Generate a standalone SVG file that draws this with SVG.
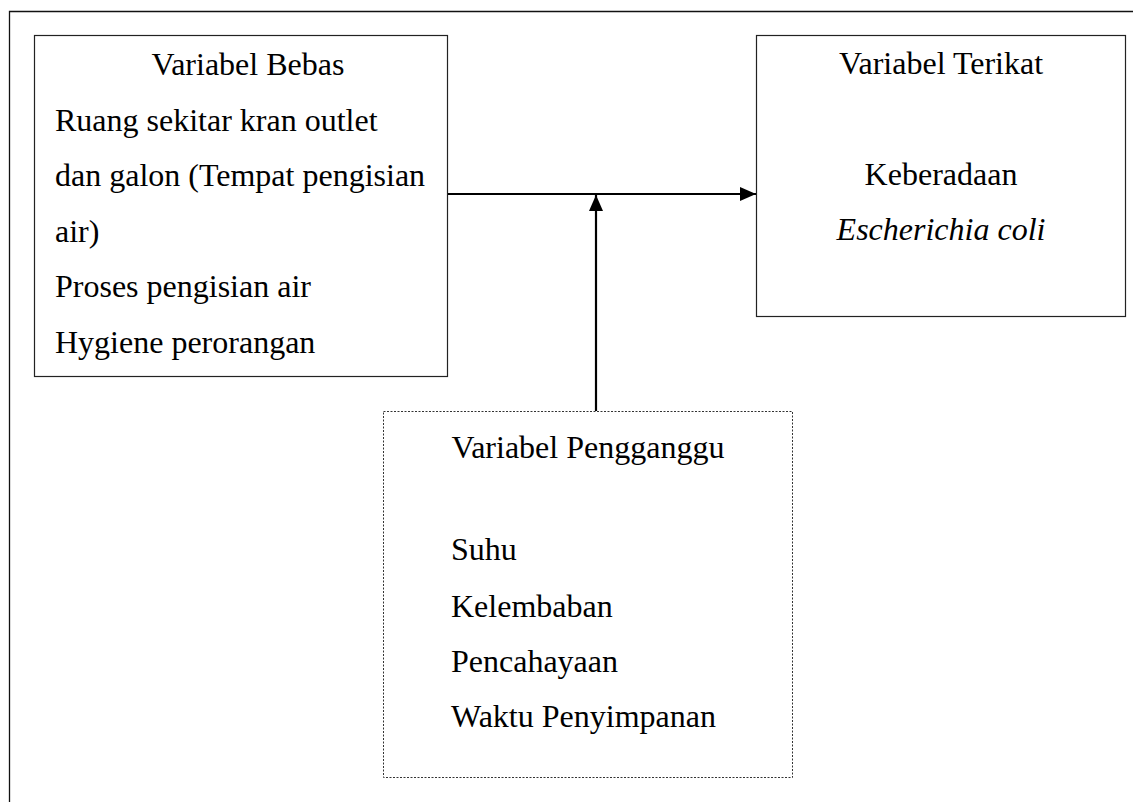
<svg xmlns="http://www.w3.org/2000/svg" width="1133" height="802" viewBox="0 0 1133 802">
<style>
  .t { font-family: "Liberation Serif", "Times New Roman", serif; font-size: 32px; fill: #000; }
  .c { text-anchor: middle; }
  .box { fill: #fff; stroke: #222; stroke-width: 1.2; }
  .dot { fill: #fff; stroke: #333; stroke-width: 1; stroke-dasharray: 2 1.5; }
  .conn { stroke: #000; stroke-width: 2.2; fill: none; }
</style>
<defs>
  <marker id="arr" viewBox="0 0 16 14" refX="16" refY="7" markerWidth="16" markerHeight="14" markerUnits="userSpaceOnUse" orient="auto">
    <path d="M0,0 L16,7 L0,14 Z" fill="#000"/>
  </marker>
</defs>
<rect width="1133" height="802" fill="#fff"/>
<g id="frame">
  <path d="M9.5,802 L9.5,11.5 L1133,11.5" fill="none" stroke="#111" stroke-width="1.3"/>
</g>
<g id="bebas">
  <rect class="box" x="34.5" y="35.5" width="413" height="341"/>
  <text class="t c" x="248" y="75">Variabel Bebas</text>
  <text class="t" x="55" y="130.5">Ruang sekitar kran outlet</text>
  <text class="t" x="55" y="186">dan galon (Tempat pengisian</text>
  <text class="t" x="55" y="241.5">air)</text>
  <text class="t" x="55" y="297">Proses pengisian air</text>
  <text class="t" x="55" y="352.5">Hygiene perorangan</text>
</g>
<g id="terikat">
  <rect class="box" x="756.5" y="35.5" width="369" height="281"/>
  <text class="t c" x="941" y="74">Variabel Terikat</text>
  <text class="t c" x="941" y="185">Keberadaan</text>
  <text class="t c" x="941" y="240" font-style="italic">Escherichia coli</text>
</g>
<g id="pengganggu">
  <rect class="dot" x="383.5" y="411.5" width="409" height="366"/>
  <text class="t c" x="588" y="458">Variabel Pengganggu</text>
  <text class="t" x="451" y="560">Suhu</text>
  <text class="t" x="451" y="617">Kelembaban</text>
  <text class="t" x="451" y="672">Pencahayaan</text>
  <text class="t" x="451" y="727">Waktu Penyimpanan</text>
</g>
<g id="connectors">
  <line class="conn" x1="448" y1="194" x2="756" y2="194" marker-end="url(#arr)"/>
  <line class="conn" x1="596" y1="411" x2="596" y2="195" marker-end="url(#arr)"/>
</g>
</svg>
